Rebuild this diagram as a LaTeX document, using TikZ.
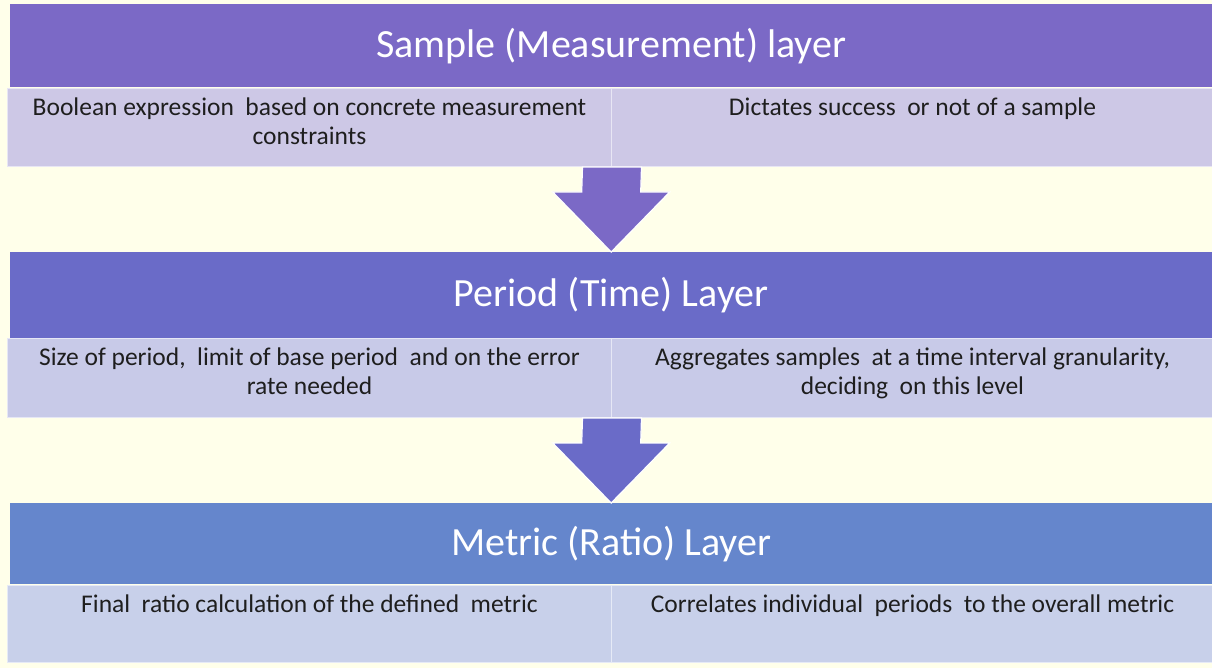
\documentclass[tikz,border=0pt]{standalone}
\usepackage{fontspec}
\setmainfont{Carlito}
\usetikzlibrary{calc}
\definecolor{bg}{HTML}{FFFFEA}
\definecolor{hA}{HTML}{7B69C6}
\definecolor{hB}{HTML}{6A6BC8}
\definecolor{hC}{HTML}{6586CC}
\definecolor{cA}{HTML}{CDC8E6}
\definecolor{cB}{HTML}{C8CAE8}
\definecolor{cC}{HTML}{C8D0EA}
\definecolor{ink}{HTML}{1E1E1E}
\tikzset{
  header/.style={draw=none, inner sep=0pt, minimum width=1202pt, minimum height=#1,
    anchor=north west, text=white, font=\fontsize{40}{46}\selectfont},
  cellbox/.style={draw=white!55!#1, line width=1pt, fill=#1, inner sep=0pt, anchor=north west},
  celltext/.style={anchor=north, inner sep=0pt, align=center, text=ink,
    font=\fontsize{25.5}{29}\selectfont},
  downarrow/.style={draw=white, line width=1.2pt, line join=miter, fill=#1}
}
\newcommand{\layerarrow}[3]{%
  % #1 top of shaft, #2 tip, #3 colour
  \draw[downarrow=#3]
    ($(#1)+(-29.5,0)$) -- ($(#2)+(-29.5,60)$) -- ($(#2)+(-58.5,60)$) -- (#2)
    -- ($(#2)+(58.5,60)$) -- ($(#2)+(29.5,60)$) -- ($(#1)+(29.5,0)$) -- cycle;}
\begin{document}
\begin{tikzpicture}[x=1pt,y=1pt]
  \fill[bg] (0,0) rectangle (1212,-668);
  \useasboundingbox (0,0) rectangle (1212,-668);

  % Sample layer
  \node[header=83pt, fill=hA] (h1) at (10,-4) {Sample (Measurement) layer};
  \node[cellbox=cA, minimum width=604pt, minimum height=78pt] (c1l) at (7,-88) {};
  \node[cellbox=cA, minimum width=602pt, minimum height=78pt] (c1r) at (611,-88) {};
  \node[celltext] (t1l) at ($(c1l.north)+(0,-10)$) {Boolean expression \ based on concrete measurement\\constraints};
  \node[celltext] (t1r) at ($(c1r.north)+(0,-10)$) {Dictates success \ or not of a sample};

  % Period layer
  \node[header=86pt, fill=hB] (h2) at (10,-252) {Period (Time) Layer};
  \node[cellbox=cB, minimum width=604pt, minimum height=79pt] (c2l) at (7,-338) {};
  \node[cellbox=cB, minimum width=602pt, minimum height=79pt] (c2r) at (611,-338) {};
  \node[celltext] (t2l) at ($(c2l.north)+(0,-10)$) {Size of period, \ limit of base period \ and on the error\\rate needed};
  \node[celltext] (t2r) at ($(c2r.north)+(0,-10)$) {Aggregates samples \ at a time interval granularity,\\deciding \ on this level};

  % Metric layer
  \node[header=81pt, fill=hC] (h3) at (10,-503) {Metric (Ratio) Layer};
  \node[cellbox=cC, minimum width=604pt, minimum height=77pt] (c3l) at (7,-585) {};
  \node[cellbox=cC, minimum width=602pt, minimum height=77pt] (c3r) at (611,-585) {};
  \node[celltext] (t3l) at ($(c3l.north)+(0,-10)$) {Final \ ratio calculation of the defined \ metric};
  \node[celltext] (t3r) at ($(c3r.north)+(0,-10)$) {Correlates individual \ periods \ to the overall metric};

  % Arrows between layers
  \layerarrow{c1l.south east}{h2.north}{hA}
  \layerarrow{c2l.south east}{h3.north}{hB}
\end{tikzpicture}
\end{document}
